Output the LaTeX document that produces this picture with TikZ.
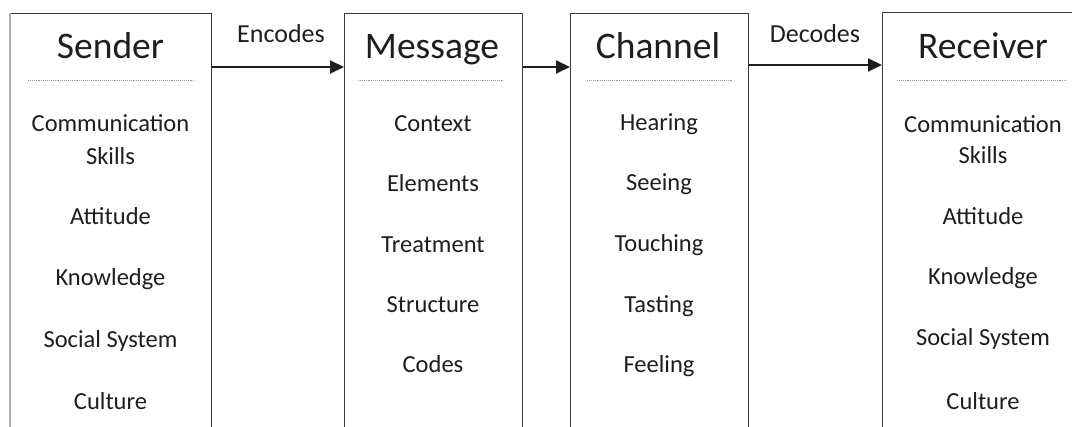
\documentclass[tikz,border=0pt]{standalone}
\usepackage{fontspec}
\setmainfont{Carlito}
\usetikzlibrary{arrows.meta}
\definecolor{ink}{HTML}{1E1E1E}
\definecolor{edge}{HTML}{3A3A3A}
\definecolor{sepc}{HTML}{9A9A9A}
\begin{document}
\begin{tikzpicture}[x=1pt,y=-1pt,
  boxnode/.style={draw=edge,line width=1.4pt,rectangle,inner sep=0pt,anchor=north west,minimum height=440pt},
  titletext/.style={anchor=base,inner sep=0pt,text=ink,font=\fontsize{37.5}{40}\selectfont},
  linktext/.style={anchor=base,inner sep=0pt,text=ink,font=\fontsize{26}{28}\selectfont},
  itemtext/.style={anchor=base,inner sep=0pt,text=ink,font=\fontsize{24.5}{26}\selectfont},
  sepline/.style={draw=sepc,line width=0.9pt,densely dotted},
  flow/.style={draw=ink,line width=2pt,-{Triangle[length=14pt,width=13pt]}}]
\useasboundingbox (0,0) rectangle (1072,427);
\clip (0,0) rectangle (1072,427);
\fill[white] (0,0) rectangle (1072,427);
% boxes
\node[boxnode,minimum width=201pt] (sender) at (10,13) {};
\node[boxnode,minimum width=178pt] (message) at (344,13) {};
\node[boxnode,minimum width=178pt] (channel) at (570,13) {};
\node[boxnode,minimum width=203pt] (receiver) at (882,12) {};
\draw[draw=gray!60,line width=1.6pt] (sender.north west) -- (sender.south west);
% titles
\node[titletext] (tS) at (110.5,59) {Sender};
\node[titletext] (tM) at (432,59) {Message};
\node[titletext] (tC) at (658,59) {Channel};
\node[titletext] (tR) at (983,59) {Receiver};
% separators
\draw[sepline] (28,80) -- (195,80);
\draw[sepline] (358,80) -- (503,80);
\draw[sepline] (587,80) -- (733,80);
\draw[sepline] (897,80) -- (1067,80);
% connectors
\coordinate (lvlA) at (0,67);
\coordinate (lvlB) at (0,65);
\draw[flow] (sender.east |- lvlA) -- (message.west |- lvlA);
\draw[flow] (message.east |- lvlA) -- (channel.west |- lvlA);
\draw[flow] (channel.east |- lvlB) -- (receiver.west |- lvlB);
\node[linktext] (enc) at (281,43) {Encodes};
\node[linktext] (dec) at (815,43) {Decodes};
% Sender items
\node[itemtext] (s1) at (110.5,132) {Communication};
\node[itemtext] (s2) at (110.5,165) {Skills};
\node[itemtext] (s3) at (110.5,225) {Attitude};
\node[itemtext] (s4) at (110.5,286) {Knowledge};
\node[itemtext] (s5) at (110.5,348) {Social System};
\node[itemtext] (s6) at (110.5,410) {Culture};
% Message items
\node[itemtext] (m1) at (433,132) {Context};
\node[itemtext] (m2) at (433,192) {Elements};
\node[itemtext] (m3) at (433,253) {Treatment};
\node[itemtext] (m4) at (433,313) {Structure};
\node[itemtext] (m5) at (433,373) {Codes};
% Channel items
\node[itemtext] (c1) at (659,131) {Hearing};
\node[itemtext] (c2) at (659,191) {Seeing};
\node[itemtext] (c3) at (659,252) {Touching};
\node[itemtext] (c4) at (659,313) {Tasting};
\node[itemtext] (c5) at (659,373) {Feeling};
% Receiver items
\node[itemtext] (r1) at (983,133) {Communication};
\node[itemtext] (r2) at (983,164) {Skills};
\node[itemtext] (r3) at (983,225) {Attitude};
\node[itemtext] (r4) at (983,285) {Knowledge};
\node[itemtext] (r5) at (983,346) {Social System};
\node[itemtext] (r6) at (983,410) {Culture};
\end{tikzpicture}
\end{document}
